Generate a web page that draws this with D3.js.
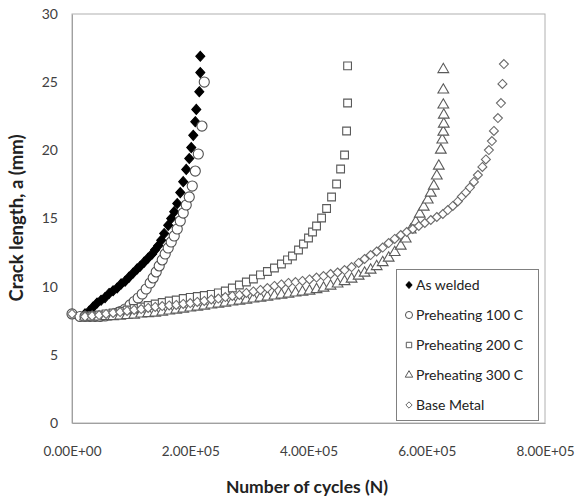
<!DOCTYPE html>
<html><head><meta charset="utf-8">
<script src="https://cdnjs.cloudflare.com/ajax/libs/d3/7.8.5/d3.min.js"></script>
<style>body{margin:0;background:#fff}svg{display:block}text{font-family:Lato,"Open Sans",sans-serif}</style>
</head><body>
<svg id="c" width="578" height="500"></svg>
<script>
// Number of cycles in thousands, crack length a in mm
const asWelded = [[22.0,8.0],[28.8,8.2],[35.6,8.5],[42.4,8.8],[49.2,9.0],[55.9,9.2],[62.7,9.5],[69.5,9.7],[76.3,9.9],[83.1,10.2],[89.8,10.4],[96.6,10.7],[103.4,11.0],[110.2,11.3],[115.3,11.5],[122.0,11.8],[128.8,12.1],[135.6,12.4],[140.7,12.7],[145.8,13.0],[150.9,13.4],[155.9,13.9],[162.7,14.5],[167.8,15.0],[172.9,15.5],[178.0,16.1],[183.1,16.9],[188.1,17.7],[193.2,18.6],[198.3,19.4],[201.7,20.2],[205.1,21.1],[208.5,22.1],[210.2,23.0],[215.3,24.3],[217.0,25.7],[217.0,26.9]];
const pre100 = [[0,8.0],[13.6,7.81],[22.0,7.81],[30.5,7.81],[39.0,7.81],[47.5,7.81],[55.9,7.85],[64.4,7.92],[72.9,8.03],[81.4,8.18],[89.8,8.36],[98.3,8.66],[105.1,8.91],[111.9,9.17],[118.7,9.46],[125.4,9.83],[132.2,10.27],[137.3,10.64],[142.4,11.08],[147.5,11.52],[152.6,11.96],[157.6,12.40],[162.7,12.84],[167.8,13.28],[172.9,13.72],[178.0,14.23],[183.1,14.82],[188.1,15.40],[193.2,15.99],[198.3,16.58],[203.4,17.38],[208.5,18.48],[213.6,19.73],[219.8,21.78],[223.7,25.01]];
const pre200 = [[22.0,7.78],[33.9,7.85],[45.8,7.92],[57.6,8.00],[69.5,8.07],[81.4,8.18],[93.2,8.29],[105.1,8.40],[117.0,8.51],[128.8,8.62],[140.7,8.73],[152.6,8.84],[164.4,8.95],[176.3,9.02],[188.1,9.13],[200.0,9.21],[211.9,9.28],[223.7,9.35],[235.6,9.43],[247.5,9.54],[259.3,9.68],[271.2,9.90],[283.1,10.12],[294.9,10.34],[306.8,10.56],[318.7,10.86],[330.5,11.11],[342.4,11.37],[354.2,11.66],[364.4,11.96],[372.9,12.25],[383.1,12.69],[391.5,13.13],[400.0,13.57],[406.8,14.01],[413.6,14.45],[422.1,15.04],[430.6,15.73],[439.0,16.58],[447.5,17.53],[454.3,18.63],[461.0,19.66],[464.4,21.42],[466.1,23.47],[466.1,26.19]];
const pre300 = [[22.0,7.78],[33.9,7.78],[45.8,7.78],[57.6,7.81],[69.5,7.81],[81.4,7.85],[93.2,7.89],[105.1,7.92],[117.0,8.00],[128.8,8.03],[140.7,8.07],[152.6,8.14],[164.4,8.22],[176.3,8.29],[188.1,8.36],[200.0,8.44],[211.9,8.51],[223.7,8.58],[235.6,8.66],[247.5,8.73],[259.3,8.80],[271.2,8.88],[283.1,8.95],[294.9,9.02],[306.8,9.10],[318.7,9.17],[330.5,9.24],[342.4,9.32],[354.2,9.39],[366.1,9.46],[378.0,9.54],[389.8,9.61],[401.7,9.68],[413.6,9.79],[425.4,9.90],[437.3,10.05],[449.2,10.20],[461.0,10.38],[472.9,10.56],[484.8,10.78],[494.9,11.00],[505.1,11.22],[515.3,11.48],[525.5,11.77],[535.6,12.10],[545.8,12.51],[556.0,12.98],[564.4,13.50],[572.9,14.16],[581.4,14.74],[588.2,15.33],[594.9,15.84],[601.7,16.36],[606.8,16.87],[611.9,17.38],[617.0,18.12],[620.4,18.85],[623.8,20.02],[626.3,20.76],[628.0,21.34],[628.8,21.93],[628.8,22.59],[628.0,23.33],[628.0,24.43],[628.0,25.93]];
const baseMetal = [[0,8.0],[22.0,7.81],[33.9,7.85],[45.8,7.92],[57.6,8.00],[69.5,8.07],[81.4,8.14],[93.2,8.22],[105.1,8.29],[117.0,8.36],[128.8,8.44],[140.7,8.51],[152.6,8.58],[164.4,8.62],[176.3,8.66],[188.1,8.73],[200.0,8.80],[211.9,8.88],[223.7,8.95],[235.6,9.06],[247.5,9.13],[259.3,9.24],[271.2,9.32],[283.1,9.39],[294.9,9.54],[306.8,9.65],[318.7,9.76],[330.5,9.90],[342.4,10.05],[354.2,10.16],[366.1,10.27],[378.0,10.34],[389.8,10.42],[401.7,10.53],[413.6,10.67],[425.4,10.78],[437.3,10.93],[449.2,11.04],[461.0,11.22],[472.9,11.44],[484.8,11.74],[494.9,12.03],[505.1,12.32],[515.3,12.58],[525.5,12.87],[535.6,13.20],[545.8,13.50],[556.0,13.79],[566.1,14.01],[576.3,14.23],[586.5,14.45],[596.7,14.67],[606.8,14.89],[617.0,15.11],[627.2,15.33],[635.6,15.62],[644.1,15.92],[652.6,16.25],[659.4,16.61],[666.1,16.91],[672.9,17.27],[679.7,17.68],[686.5,18.19],[694.1,18.78],[700.0,19.33],[705.1,20.02],[710.2,20.68],[713.6,21.42],[720.4,22.37],[725.5,23.47],[728.0,24.87],[730.5,26.33]];

const seriesNames = ["As welded","Preheating 100 C","Preheating 200 C","Preheating 300 C","Base Metal"];
const xTicks = [0,200000,400000,600000,800000];
const xTickLabels = ["0.00E+00","2.00E+05","4.00E+05","6.00E+05","8.00E+05"];
const yTicks = [0,5,10,15,20,25,30];
const xTitle = "Number of cycles (N)";
const yTitle = "Crack length, a (mm)";

const svg = d3.select("#c");
const L=72, R=545, T=14, B=423;
const x = d3.scaleLinear().domain([0,800000]).range([L,R]);
const y = d3.scaleLinear().domain([0,30]).range([B,T]);

svg.append("rect").attr("x",L).attr("y",T).attr("width",R-L).attr("height",B-T)
  .attr("fill","none").attr("stroke","#b0b0b0").attr("stroke-width",1);

const xAxis = d3.axisBottom(x).tickValues(xTicks).tickFormat((d,i)=>xTickLabels[i]).tickSize(0).tickPadding(23);
const gx = svg.append("g").attr("transform",`translate(0,${B})`).call(xAxis);
gx.select(".domain").attr("stroke","#a0a0a0");
gx.selectAll("text").attr("font-size",13.5).attr("fill","#404040").attr("font-family","Lato");

const yAxis = d3.axisLeft(y).tickValues(yTicks).tickSize(0).tickPadding(14);
const gy = svg.append("g").attr("transform",`translate(${L},0)`).call(yAxis);
gy.select(".domain").attr("stroke","#a0a0a0");
gy.selectAll("text").attr("font-size",14).attr("fill","#404040").attr("font-family","Lato");

svg.append("text").attr("x",307).attr("y",493).attr("text-anchor","middle")
  .attr("font-size",17.5).attr("font-weight","bold").attr("fill","#222").text(xTitle);
svg.append("text").attr("transform","translate(23,218) rotate(-90)").attr("text-anchor","middle")
  .attr("font-size",18.5).attr("font-weight","bold").attr("fill","#222").text(yTitle);

// diamond path helper (width w, height h)
const diamond = (w,h)=>`M0,${-h/2}L${w/2},0L0,${h/2}L${-w/2},0Z`;
const sym = [
  {d:s=>diamond(9*s,10*s), fill:"#000", stroke:"#000"},
  {d:s=>d3.symbol().type(d3.symbolCircle).size(80*s*s)(), fill:"#fff", stroke:"#505050"},
  {d:s=>d3.symbol().type(d3.symbolSquare).size(60*s*s)(), fill:"#fff", stroke:"#5a5a5a"},
  {d:s=>d3.symbol().type(d3.symbolTriangle).size(50*s*s)(), fill:"#fff", stroke:"#5a5a5a"},
  {d:s=>diamond(9*s,9*s), fill:"#fff", stroke:"#6a6a6a"}
];
const allSeries = [asWelded, pre100, pre200, pre300, baseMetal];

allSeries.forEach((data,i)=>{
  const s = sym[i];
  const path = s.d(1);
  svg.append("g").selectAll("path").data(data).join("path")
    .attr("transform",d=>`translate(${x(d[0]*1000)},${y(d[1])})`)
    .attr("d",path).attr("fill",s.fill).attr("stroke",s.stroke).attr("stroke-width",1.1);
});

// legend
const lg = svg.append("g");
lg.append("rect").attr("x",396.5).attr("y",269.5).attr("width",142).attr("height",151)
  .attr("fill","#fff").attr("stroke","#808080");
seriesNames.forEach((n,i)=>{
  const yy = 285 + i*30;
  const s = sym[i];
  lg.append("path").attr("transform",`translate(409,${yy})`)
    .attr("d",s.d(0.7)).attr("fill",s.fill).attr("stroke",s.stroke).attr("stroke-width",1);
  lg.append("text").attr("x",416).attr("y",yy).attr("dy","0.35em").attr("font-size",14).attr("fill","#222").text(n);
});
</script>
</body></html>
